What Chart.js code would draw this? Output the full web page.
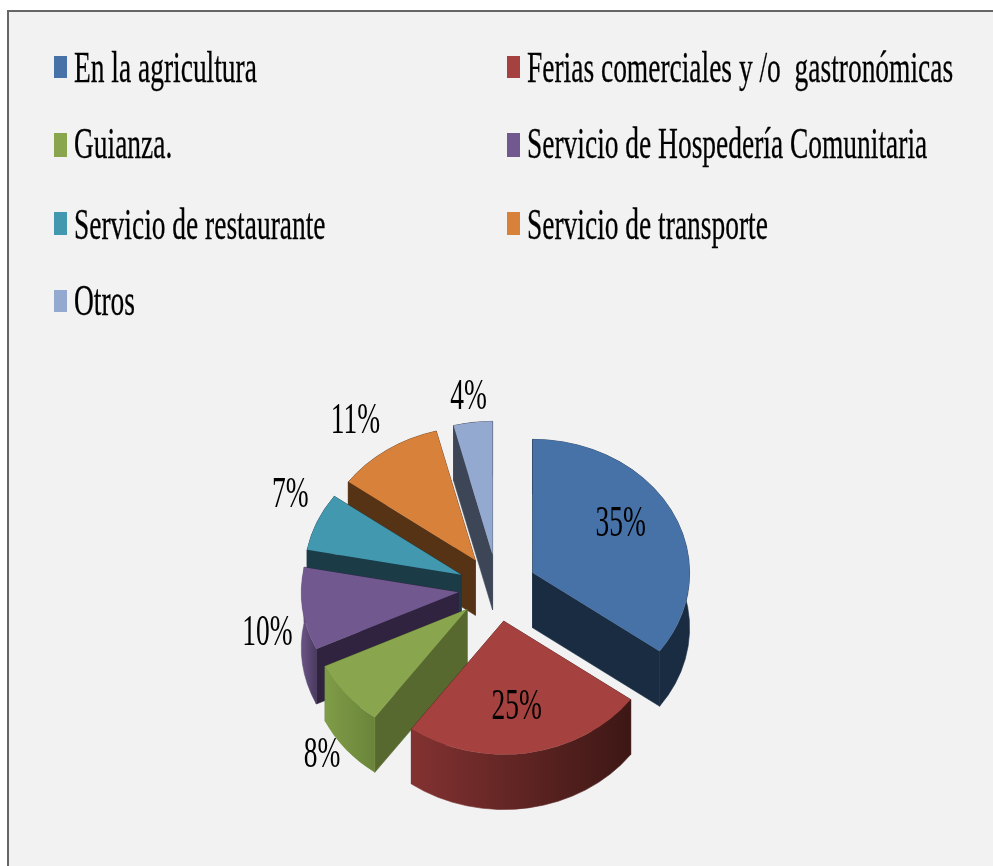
<!DOCTYPE html>
<html lang="es">
<head>
<meta charset="utf-8">
<title>Gráfico circular</title>
<script src="https://cdn.jsdelivr.net/npm/chart.js@4"></script>
<style>
  html, body { margin: 0; padding: 0; background: #fff; overflow: hidden; }
  #page { position: relative; width: 993px; height: 866px; filter: blur(0.4px); }
  #panel {
    position: absolute; left: 7px; top: 10px; right: -5px; bottom: -5px;
    background: #f2f2f2; border: 2px solid #666; box-sizing: border-box;
  }
  canvas { position: absolute; left: 0; top: 0; }
  .swatch { position: absolute; width: 13px; }
  .entry {
    position: absolute; font: 45px/45px "Liberation Serif", serif; color: #000;
    -webkit-text-stroke: 0.3px #000;
    white-space: pre; transform: scaleX(0.61); transform-origin: left top;
  }
</style>
</head>
<body>
<div id="page">
  <div id="panel"></div>
  <canvas id="pie" width="993" height="866"></canvas>
  <div id="legend"></div>
</div>
<script>
// Data
const categories = [
  'En la agricultura',
  'Ferias comerciales y /o  gastronómicas',
  'Guianza.',
  'Servicio de Hospedería Comunitaria',
  'Servicio de restaurante',
  'Servicio de transporte',
  'Otros'
];
const percentages = [35, 25, 8, 10, 7, 11, 4];

// Colours: top face, radial side, outer wall left / right
const topColors = ['#4672a8', '#a5423f', '#89a54e', '#71588f', '#4198af', '#d8813b', '#93a9cf'];
const sideColors = ['#1a2c42', '#421a17', '#58692f', '#30233f', '#1b3c47', '#573316', '#3d4657'];
const wallLeft = ['#1a2c42', '#823231', '#7f9c47', '#66507f', '#1b3c47', '#573316', '#3d4657'];
const wallRight = ['#1a2c42', '#3d1715', '#6a853a', '#4a3a60', '#1b3c47', '#573316', '#3d4657'];

// Label position relative to the tip of its slice
const labelDx = [88, 13, -145, -191, -171, -120, -24];
const labelDy = [-49, 86, 146, 41, -80, -139, -158];

// Legend rows, two columns
const legendX = [54, 507];
const legendRowTop = [56, 133, 212, 290];
const legendRowHeight = [22, 24, 23, 22];
const legendTextTop = [45, 121, 202, 278];

const SQUASH = 0.85;
const DEPTH = 55;
const EXPLODE = 39.4;

const pie3d = {
  id: 'pie3d',
  // explode by moving the arcs, Chart's own offset changes the radius per slice
  afterDatasetsUpdate(chart) {
    const { left, right, top, bottom } = chart.chartArea;
    const cx = (left + right) / 2, cy = (top + bottom) / 2;
    chart.getDatasetMeta(0).data.forEach(arc => {
      const mid = (arc.startAngle + arc.endAngle) / 2;
      arc.x = cx + EXPLODE * Math.cos(mid);
      arc.y = cy + EXPLODE * Math.sin(mid);
    });
  },
  beforeDatasetsDraw(chart) {
    const ctx = chart.ctx;
    const { left, right, top, bottom } = chart.chartArea;
    const cx = (left + right) / 2, cy = (top + bottom) / 2;
    const screenY = y => cy + (y - cy) * SQUASH;
    const arcs = chart.getDatasetMeta(0).data.map((arc, i) => ({ arc, i }));
    arcs.sort((a, b) => a.arc.y - b.arc.y);
    ctx.lineWidth = 0.6;
    arcs.forEach(({ arc, i }) => {
      const R = arc.outerRadius, ax = arc.x, ay = screenY(arc.y);
      const edge = a => [ax + R * Math.cos(a), ay + R * SQUASH * Math.sin(a)];
      [arc.startAngle, arc.endAngle].forEach(a => {
        const [ex, ey] = edge(a);
        ctx.fillStyle = ctx.strokeStyle = sideColors[i];
        ctx.beginPath();
        ctx.moveTo(ax, ay);
        ctx.lineTo(ex, ey);
        ctx.lineTo(ex, ey + DEPTH);
        ctx.lineTo(ax, ay + DEPTH);
        ctx.closePath();
        ctx.fill();
        ctx.stroke();
      });
      const [x0] = edge(arc.startAngle), [x1] = edge(arc.endAngle);
      const grad = ctx.createLinearGradient(Math.min(x0, x1), 0, Math.max(x0, x1), 0);
      grad.addColorStop(0, wallLeft[i]);
      grad.addColorStop(1, wallRight[i]);
      ctx.fillStyle = ctx.strokeStyle = grad;
      ctx.beginPath();
      ctx.ellipse(ax, ay, R, R * SQUASH, 0, arc.startAngle, arc.endAngle);
      ctx.ellipse(ax, ay + DEPTH, R, R * SQUASH, 0, arc.endAngle, arc.startAngle, true);
      ctx.closePath();
      ctx.fill();
      ctx.stroke();
    });
    ctx.save();
    ctx.translate(cx, cy);
    ctx.scale(1, SQUASH);
    ctx.translate(-cx, -cy);
  },
  afterDatasetsDraw(chart) {
    const ctx = chart.ctx;
    ctx.restore();
    const { top, bottom } = chart.chartArea;
    const cy = (top + bottom) / 2;
    ctx.save();
    ctx.font = '45px "Liberation Serif", serif';
    ctx.fillStyle = '#000';
    ctx.textAlign = 'center';
    ctx.textBaseline = 'middle';
    chart.getDatasetMeta(0).data.forEach((arc, i) => {
      const x = arc.x + labelDx[i];
      const y = cy + (arc.y - cy) * SQUASH + labelDy[i];
      ctx.save();
      ctx.translate(x, y);
      ctx.scale(0.61, 1);
      ctx.fillText(percentages[i] + '%', 0, 0);
      ctx.restore();
    });
    ctx.restore();
  }
};

const chart = new Chart(document.getElementById('pie'), {
  type: 'pie',
  data: {
    labels: categories,
    datasets: [{
      data: percentages,
      backgroundColor: topColors,
      borderWidth: 0,
      clip: false
    }]
  },
  options: {
    responsive: false,
    animation: false,
    events: [],
    radius: 157,
    layout: { padding: { left: 2, top: 310 } },
    plugins: { legend: { display: false }, tooltip: { enabled: false } }
  },
  plugins: [pie3d]
});

// Legend, filled row by row from the chart's labels
const legend = document.getElementById('legend');
chart.data.labels.forEach((label, i) => {
  const col = i % 2, row = Math.floor(i / 2);
  const box = document.createElement('div');
  box.className = 'swatch';
  box.style.left = legendX[col] + 'px';
  box.style.top = legendRowTop[row] + 'px';
  box.style.height = legendRowHeight[row] + 'px';
  box.style.background = topColors[i];
  legend.appendChild(box);
  const text = document.createElement('div');
  text.className = 'entry';
  text.style.left = (legendX[col] + 20) + 'px';
  text.style.top = legendTextTop[row] + 'px';
  text.textContent = label;
  legend.appendChild(text);
});
</script>
</body>
</html>
